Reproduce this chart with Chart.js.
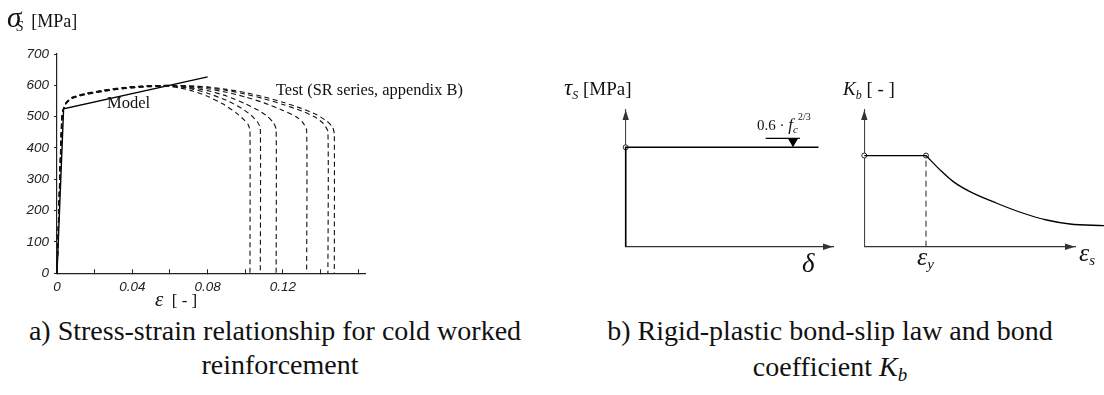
<!DOCTYPE html>
<html>
<head>
<meta charset="utf-8">
<script src="https://cdn.jsdelivr.net/npm/chart.js@4.4.0/dist/chart.umd.min.js"></script>
<style>
  html, body { margin:0; padding:0; background:#fff; }
  #page { position:relative; width:1104px; height:395px; overflow:hidden;
          font-family:"Liberation Serif","Times New Roman",serif; color:#111; }
  .box { position:absolute; }
  .lbl { position:absolute; white-space:nowrap; line-height:1; }
  .lbl span { line-height:0; }
  .it { font-style:italic; }
  .sb { position:relative; }
</style>
</head>
<body>
<div id="page">
  <div class="box" style="left:0;top:0;width:380px;height:300px"><canvas id="chartA"></canvas></div>
  <div class="box" style="left:560px;top:60px;width:300px;height:240px"><canvas id="chartTau"></canvas></div>
  <div class="box" style="left:830px;top:60px;width:274px;height:240px"><canvas id="chartKb"></canvas></div>

  <!-- panel a texts -->
  <div class="lbl" style="left:7px;top:12px;font-size:18px"><span class="it" style="font-size:29px">σ</span><span class="it sb" style="font-size:14px;top:4px;margin-left:-5px">S</span><span style="margin-left:8px">[MPa]</span></div>
  <div class="lbl" style="left:107px;top:95px;font-size:16.5px">Model</div>
  <div class="lbl" style="left:276px;top:82px;font-size:16.4px">Test (SR series, appendix B)</div>
  <div class="lbl" style="left:155px;top:292px;font-size:17px"><span class="it" style="font-size:21px">ε</span>&nbsp;&nbsp;[ - ]</div>
  <div class="lbl" style="left:0;width:550px;text-align:center;top:317px;font-size:28px">a) Stress-strain relationship for cold worked</div>
  <div class="lbl" style="left:5px;width:550px;text-align:center;top:351px;font-size:28px">reinforcement</div>

  <!-- panel b texts -->
  <div class="lbl" style="left:564px;top:79px;font-size:19px"><span class="it" style="font-size:23px">τ</span><span class="it sb" style="font-size:12px;top:4px">S</span> [MPa]</div>
  <div class="lbl" style="left:757px;top:118px;font-size:15px">0.6 · <span class="it" style="font-size:17px">f</span><span class="it sb" style="font-size:11px;top:3px">c</span><span class="sb" style="font-size:10px;top:-10px">2/3</span></div>
  <div class="lbl" style="left:802px;top:250px;font-size:27px"><span class="it">δ</span></div>
  <div class="lbl" style="left:843px;top:79px;font-size:19px"><span class="it">K</span><span class="it sb" style="font-size:12px;top:4px">b</span> [ - ]</div>
  <div class="lbl" style="left:917px;top:244px;font-size:26px"><span class="it">ε</span><span class="it sb" style="font-size:15px;top:4px">y</span></div>
  <div class="lbl" style="left:1079px;top:240px;font-size:26px"><span class="it">ε</span><span class="it sb" style="font-size:15px;top:4px">s</span></div>
  <div class="lbl" style="left:555px;width:550px;text-align:center;top:317px;font-size:28px">b) Rigid-plastic bond-slip law and bond</div>
  <div class="lbl" style="left:555px;width:550px;text-align:center;top:353px;font-size:28px">coefficient <span class="it">K</span><span class="it sb" style="font-size:19px;top:5px">b</span></div>
</div>

<script>
// ---- panel a: stress-strain, cold worked reinforcement ----
const xTickValues = [0, 0.04, 0.08, 0.12];
const xTickLabels = ['0', '0.04', '0.08', '0.12'];

const modelStrain = [0, 0.0035, 0.08];
const modelStress = [0, 525, 627];

const test1Strain = [0, 0.0025, 0.004, 0.007, 0.012, 0.02, 0.03, 0.04, 0.05, 0.058, 0.065, 0.072, 0.08, 0.088, 0.095, 0.099, 0.1015, 0.1025, 0.1025];
const test1Stress = [0, 500, 535, 555, 567, 577, 586, 592, 596, 597, 592, 582, 565, 541, 513, 492, 475, 455, 0];

const test2Strain = [0, 0.0027, 0.0045, 0.008, 0.015, 0.025, 0.035, 0.045, 0.055, 0.063, 0.072, 0.08, 0.09, 0.098, 0.103, 0.1065, 0.108, 0.108];
const test2Stress = [0, 505, 540, 560, 572, 583, 591, 596, 599, 597, 588, 575, 552, 527, 505, 483, 462, 0];

const test3Strain = [0, 0.0026, 0.0042, 0.008, 0.015, 0.025, 0.035, 0.045, 0.06, 0.07, 0.08, 0.09, 0.1, 0.107, 0.112, 0.115, 0.1164, 0.1164];
const test3Stress = [0, 502, 538, 558, 570, 581, 589, 595, 598, 593, 583, 566, 541, 520, 500, 480, 460, 0];

const test4Strain = [0, 0.0028, 0.0045, 0.008, 0.015, 0.025, 0.035, 0.045, 0.06, 0.07, 0.08, 0.09, 0.1, 0.11, 0.12, 0.127, 0.1305, 0.1326, 0.1326];
const test4Stress = [0, 506, 542, 561, 573, 584, 592, 597, 599, 596, 589, 578, 563, 544, 520, 500, 482, 457, 0];

const test5Strain = [0, 0.0027, 0.0044, 0.008, 0.015, 0.025, 0.035, 0.045, 0.06, 0.07, 0.08, 0.09, 0.1, 0.11, 0.12, 0.13, 0.137, 0.1415, 0.1439, 0.1439];
const test5Stress = [0, 504, 540, 560, 572, 583, 591, 596, 600, 598, 593, 584, 572, 557, 539, 518, 499, 478, 452, 0];

const test6Strain = [0, 0.0029, 0.0046, 0.008, 0.015, 0.025, 0.035, 0.045, 0.06, 0.07, 0.08, 0.09, 0.1, 0.11, 0.12, 0.13, 0.138, 0.1435, 0.1465, 0.1473, 0.1473];
const test6Stress = [0, 508, 543, 562, 574, 585, 593, 598, 600, 598, 595, 587, 577, 563, 546, 526, 506, 485, 465, 445, 0];

// ---- panel b left: rigid-plastic bond-slip law ----
const bondSlip = [0, 0, 0.93];
const bondStress = [0, 1, 1];
const fcLevelSlip = [0.675, 0.84];   // short line over the level marker
const fcLevelY = 1.09;
const fcMarkerSlip = 0.807;
const fcMarkerY = 1.06;

// ---- panel b right: bond coefficient Kb ----
const kbPlateauStrain = [0, 1];
const kbPlateauValue = [1, 1];
const kbDecayStrain = [1, 1.227, 1.442, 1.713, 2.146, 2.577, 2.956, 3.334, 3.885];
const kbDecayValue = [1, 0.843, 0.714, 0.604, 0.477, 0.367, 0.293, 0.249, 0.231];

const pts = (xs, ys) => xs.map((x, i) => ({x: x, y: ys[i]}));

const tickFont = {family: 'Liberation Sans, Arial, sans-serif', style: 'italic', size: 13.5};

const axisArrows = {
  id: 'axisArrows',
  afterDatasetsDraw(chart) {
    const {ctx, chartArea: a} = chart;
    const len = 10, half = 3.2;
    ctx.save();
    ctx.fillStyle = '#333';
    ctx.beginPath();
    ctx.moveTo(a.left, a.top);
    ctx.lineTo(a.left - half, a.top + len);
    ctx.lineTo(a.left + half, a.top + len);
    ctx.closePath();
    ctx.moveTo(a.right, a.bottom);
    ctx.lineTo(a.right - len, a.bottom - half);
    ctx.lineTo(a.right - len, a.bottom + half);
    ctx.closePath();
    ctx.fill();
    ctx.restore();
  }
};

const baseOptions = {
  responsive: true,
  maintainAspectRatio: false,
  animation: false,
  devicePixelRatio: 1,
  plugins: {legend: {display: false}, tooltip: {enabled: false}},
  elements: {point: {radius: 0}}
};

function testSet(xs, ys) {
  return {
    data: pts(xs, ys), showLine: true, borderColor: '#111', borderWidth: 1.1,
    borderDash: [5, 3.5], tension: 0.2, pointRadius: 0, clip: false
  };
}

new Chart(document.getElementById('chartA'), {
  type: 'scatter',
  data: {
    datasets: [
      testSet(test1Strain, test1Stress),
      testSet(test2Strain, test2Stress),
      testSet(test3Strain, test3Stress),
      testSet(test4Strain, test4Stress),
      testSet(test5Strain, test5Stress),
      testSet(test6Strain, test6Stress),
      {data: pts(modelStrain, modelStress), showLine: true, borderColor: '#000',
       borderWidth: 1.4, tension: 0, pointRadius: 0, clip: false}
    ]
  },
  options: {
    ...baseOptions,
    layout: {padding: {top: 54, right: 15, left: 0, bottom: 0}},
    scales: {
      x: {
        type: 'linear', min: 0, max: 0.1636,
        afterFit: s => { s.height = 26.7; },
        border: {display: true, color: '#222', width: 1.3},
        grid: {drawOnChartArea: false, drawTicks: true, tickLength: -4, color: '#222'},
        ticks: {
          stepSize: 0.02, includeBounds: false, autoSkip: false, maxRotation: 0,
          padding: 10, color: '#222', font: tickFont,
          callback: v => {
            const i = xTickValues.findIndex(t => Math.abs(t - v) < 1e-6);
            return i >= 0 ? xTickLabels[i] : '';
          }
        }
      },
      y: {
        type: 'linear', min: 0, max: 700,
        afterFit: s => { s.width = 57; },
        border: {display: true, color: '#222', width: 1.2},
        grid: {drawOnChartArea: false, drawTicks: true, tickLength: 3, color: '#222'},
        ticks: {stepSize: 100, padding: 5, color: '#222', font: tickFont}
      }
    }
  }
});

new Chart(document.getElementById('chartTau'), {
  type: 'scatter',
  data: {
    datasets: [
      {data: pts(bondSlip, bondStress), showLine: true, borderColor: '#000',
       borderWidth: 1.6, tension: 0, pointRadius: 0, clip: false},
      {data: pts(fcLevelSlip, [fcLevelY, fcLevelY]), showLine: true, borderColor: '#000',
       borderWidth: 1.4, pointRadius: 0, clip: false},
      {data: [{x: fcMarkerSlip, y: fcMarkerY}], pointStyle: 'triangle', rotation: 180,
       pointRadius: 6, backgroundColor: '#000', borderColor: '#000', borderWidth: 0, clip: false},
      {data: [{x: bondSlip[1], y: bondStress[1]}], pointStyle: 'circle', pointRadius: 2.5,
       backgroundColor: '#fff', borderColor: '#222', borderWidth: 1, clip: false}
    ]
  },
  options: {
    ...baseOptions,
    layout: {padding: {top: 50, right: 27, left: 0, bottom: 0}},
    scales: {
      x: {type: 'linear', min: 0, max: 1,
          afterFit: s => { s.height = 53.3; },
          border: {display: true, color: '#333', width: 1.3},
          grid: {display: false}, ticks: {display: false}},
      y: {type: 'linear', min: 0, max: 1.375,
          afterFit: s => { s.width = 65.7; },
          border: {display: true, color: '#444', width: 1.1},
          grid: {display: false}, ticks: {display: false}}
    }
  },
  plugins: [axisArrows]
});

new Chart(document.getElementById('chartKb'), {
  type: 'scatter',
  data: {
    datasets: [
      {data: pts(kbPlateauStrain, kbPlateauValue), showLine: true, borderColor: '#000',
       borderWidth: 1.3, tension: 0, pointRadius: 0, clip: false},
      {data: pts(kbDecayStrain, kbDecayValue), showLine: true, borderColor: '#000',
       borderWidth: 1.3, tension: 0.4, cubicInterpolationMode: 'monotone',
       capBezierPoints: false, pointRadius: 0, clip: false},
      {data: pts([kbPlateauStrain[1], kbPlateauStrain[1]], [0, kbPlateauValue[1]]), showLine: true,
       borderColor: '#222', borderWidth: 1, borderDash: [6, 4], pointRadius: 0, clip: false},
      {data: pts(kbPlateauStrain, kbPlateauValue), pointStyle: 'circle', pointRadius: 2.5,
       backgroundColor: '#fff', borderColor: '#222', borderWidth: 1, clip: false}
    ]
  },
  options: {
    ...baseOptions,
    layout: {padding: {top: 50, right: 29, left: 0, bottom: 0}},
    scales: {
      x: {type: 'linear', min: 0, max: 3.415,
          afterFit: s => { s.height = 53.3; },
          border: {display: true, color: '#333', width: 1.3},
          grid: {display: false}, ticks: {display: false}},
      y: {type: 'linear', min: 0, max: 1.5,
          afterFit: s => { s.width = 34.3; },
          border: {display: true, color: '#444', width: 1.1},
          grid: {display: false}, ticks: {display: false}}
    }
  },
  plugins: [axisArrows]
});
</script>
</body>
</html>
